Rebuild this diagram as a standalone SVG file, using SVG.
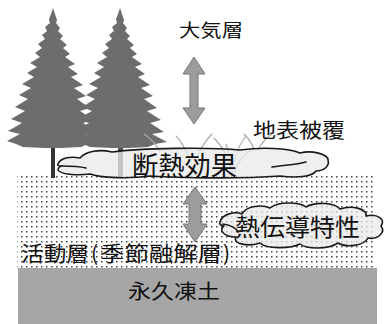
<svg xmlns="http://www.w3.org/2000/svg" width="387" height="324" viewBox="0 0 387 324">
  <style>
    .lbl { font-family: "Noto Sans CJK JP", "Noto Sans", sans-serif; fill: #111; }
    .tree { fill: #6d6d6d; }
    .cloud { fill: #e9e9e9; fill-opacity: 0.75; stroke: #1a1a1a; stroke-width: 1.6; stroke-linejoin: round; }
    .fold { fill: none; stroke: #1a1a1a; stroke-width: 1.6; stroke-linecap: round; }
    .arrow { fill: #9c9c9c; stroke: #777; stroke-width: 1; }
    .grass { fill: none; stroke: #aaa; stroke-width: 1.2; stroke-linecap: round; }
  </style>
  <defs>
    <pattern id="dots" width="5" height="5" patternUnits="userSpaceOnUse">
      <rect x="1" y="1" width="1.5" height="1.5" fill="#444"/>
    </pattern>
    <!-- conifer silhouette with drooping branch tiers, centre at x=0 -->
    <polygon id="conifer" points="0,8 2,14 4,20 3,23 7,28 5,31 10,36 7,39 14,45 10,48 17,54 12,57 22,64 15,67 25,74 18,77 30,85 21,88 33,96 24,99 37,108 27,111 41,120 30,123 44,132 32,134 47,142 35,144 28,147 8,148 -8,148 -30,147 -37,144 -46,141 -33,134 -45,131 -31,123 -42,119 -28,111 -38,107 -25,99 -34,95 -22,88 -31,84 -19,77 -26,73 -16,67 -23,63 -13,57 -18,53 -11,48 -15,44 -8,39 -11,35 -6,31 -8,27 -3,23 -4,19 -2,14"/>
  </defs>

  <!-- active layer (dotted) and permafrost -->
  <g id="active-layer">
    <rect x="17" y="176" width="359" height="92" fill="#fff"/>
    <rect x="17" y="176" width="359" height="92" fill="url(#dots)"/>
  </g>
  <g id="permafrost">
    <rect x="18" y="268" width="359" height="56" fill="#a6a6a6"/>
  </g>

  <!-- trees -->
  <g id="trees">
    <rect x="51" y="140" width="4" height="38" fill="#333"/>
    <rect x="118" y="140" width="5" height="38" fill="#555"/>
    <use href="#conifer" x="53" class="tree"/>
    <use href="#conifer" x="120" class="tree"/>
  </g>

  <!-- ground vegetation -->
  <g id="grass">
    <path class="grass" d="M232,176 C230,160 224,148 214,138"/>
    <path class="grass" d="M232,176 C233,158 238,146 246,136"/>
    <path class="grass" d="M232,176 C231,162 229,152 226,144"/>
    <path class="grass" d="M234,176 C236,164 242,156 252,150"/>
    <path class="grass" d="M190,160 C186,150 182,142 176,136"/>
    <path class="grass" d="M196,160 C200,148 206,140 212,134"/>
    <path class="grass" d="M258,150 C262,142 266,138 272,134"/>
    <path class="grass" d="M254,150 C252,142 248,138 244,134"/>
    <path class="grass" d="M160,152 C156,144 150,138 144,134"/>
  </g>

  <!-- heat-exchange arrows -->
  <g id="connectors">
    <polygon class="arrow" points="194,57 205,74 198,74 198,108 205,108 194,124 183,108 190,108 190,74 183,74"/>
    <polygon class="arrow" points="195,187 207,204 201,204 201,224 207,224 195,242 183,224 189,224 189,204 183,204"/>
  </g>

  <!-- insulation cloud -->
  <g id="insulation">
    <path class="cloud" d="M58,164 C60,158 70,156 80,158 C86,151 100,149 112,152 C140,148 210,147 240,150 C262,147 288,148 300,153 C312,150 328,154 328,160 C330,166 324,171 316,171 C312,177 296,178 280,176 C240,179 180,178 150,176 C130,179 100,178 90,174 C76,176 60,174 58,170 C58,168 60,166 62,166 C58,166 57,165 58,164 Z"/>
    <path class="fold" d="M62,166 C70,166 78,166 86,168"/>
    <path class="fold" d="M272,167 C282,165 296,165 306,162"/>
    <text class="lbl" x="132" y="176" font-size="27" textLength="105" lengthAdjust="spacingAndGlyphs">断熱効果</text>
  </g>

  <!-- thermal conductivity cloud -->
  <g id="conductivity">
    <path class="cloud" d="M220,222 C222,214 235,211 242,214 C246,206 262,204 270,208 C278,201 300,202 306,207 C316,201 336,203 340,209 C352,205 368,209 366,216 C378,213 386,220 381,226 C386,232 378,240 368,238 C364,246 346,248 338,243 C328,250 306,249 300,244 C290,249 266,249 260,243 C248,247 232,244 236,237 C224,237 218,230 224,226 C220,225 219,224 220,222 Z"/>
    <path class="fold" d="M223,224 C230,225 236,228 238,232"/>
    <text class="lbl" x="235" y="236" font-size="24" textLength="125" lengthAdjust="spacingAndGlyphs">熱伝導特性</text>
  </g>

  <!-- labels -->
  <g id="atmosphere"><text class="lbl" x="179" y="37" font-size="18" textLength="64" lengthAdjust="spacingAndGlyphs">大気層</text></g>
  <g id="ground-cover"><text class="lbl" x="253" y="138" font-size="20" textLength="92" lengthAdjust="spacingAndGlyphs">地表被覆</text></g>
  <g id="active-layer-label">
    <text class="lbl" y="261" font-size="21"><tspan x="21" textLength="68" lengthAdjust="spacingAndGlyphs">活動層</tspan><tspan x="91">(</tspan><tspan x="100" textLength="122" lengthAdjust="spacingAndGlyphs">季節融解層</tspan><tspan x="223">)</tspan></text>
  </g>
  <g id="permafrost-label"><text class="lbl" x="128" y="299" font-size="20" textLength="92" lengthAdjust="spacingAndGlyphs">永久凍土</text></g>
</svg>
